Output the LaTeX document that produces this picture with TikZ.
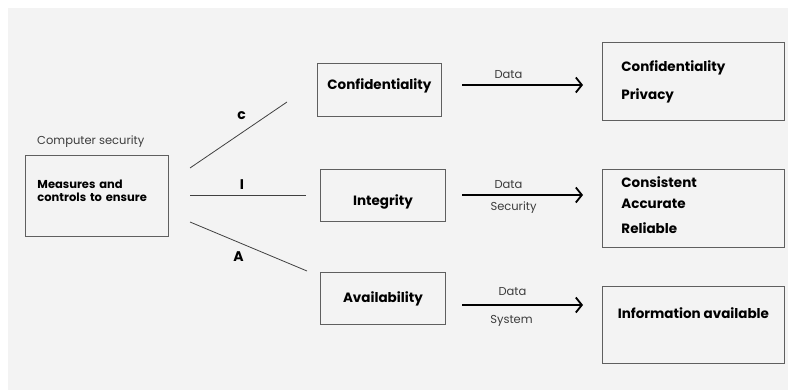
\documentclass[tikz,border=0pt]{standalone}
\usepackage{fontspec}
\setmainfont{Poppins}
\usepackage{tikz}
\usetikzlibrary{positioning,arrows.meta}
\usepackage{xcolor}
\definecolor{panelgray}{RGB}{243,243,243}
\definecolor{edgegray}{RGB}{95,95,95}
\definecolor{labelgray}{RGB}{60,60,60}

\begin{document}
\begin{tikzpicture}[
    x=1pt, y=-1pt,
    every node/.style={font=\small},
    boxNode/.style={rectangle, draw=edgegray, line width=0.9pt, inner sep=0pt, font=\bfseries\fontsize{13.5}{15}\selectfont},
    letterNode/.style={font=\bfseries\fontsize{14}{15}\selectfont},
    tagNode/.style={font=\fontsize{11.5}{13}\selectfont, text=labelgray},
    linkEdge/.style={draw=black!75, line width=0.8pt},
    flowEdge/.style={draw=black, line width=1.8pt, -{Straight Barb[length=6pt,width=15pt,line width=1.8pt]}}
]
    \useasboundingbox (0,0) rectangle (788,390);
    \fill [panelgray] (8,8) rectangle (788,390);

    % source box
    \node [tagNode, anchor=west, inner xsep=0pt] (title) at (37,142) {Computer security};
    \node [boxNode, anchor=north west, minimum width=143, text width=119, align=left, text height=33, text depth=48, font=\bfseries\fontsize{11.5}{13}\selectfont] (main) at (25,155) {Measures and\\controls to ensure};

    % the three properties
    \node [boxNode, anchor=north west, minimum width=124, text height=26, text depth=27] (conf) at (317,63) {Confidentiality};
    \node [boxNode, anchor=north west, minimum width=125, text height=36, text depth=16] (integ) at (320,169) {Integrity};
    \node [boxNode, anchor=north west, minimum width=125, text height=30, text depth=22] (avail) at (320,272) {Availability};

    % what each one gives
    \node [boxNode, anchor=north west, minimum width=182, text width=144, align=left, text height=29, text depth=49, font=\bfseries\fontsize{13.5}{28}\selectfont] (confOut) at (602,42) {Confidentiality\\Privacy};
    \node [boxNode, anchor=north west, minimum width=182, text width=144, align=left, text height=18, text depth=60, font=\bfseries\fontsize{13.5}{21}\selectfont] (integOut) at (602,169) {Consistent\\Accurate\\[4pt]Reliable};
    \node [boxNode, anchor=north west, minimum width=182, text height=32, text depth=45] (availOut) at (602,286) {Information available};

    % free ends of the c / I / A strokes
    \coordinate (cFrom) at (190,168);
    \coordinate (cTo) at (287,102);
    \coordinate (iFrom) at (190,195);
    \coordinate (iTo) at (306,195);
    \coordinate (aFrom) at (190,222);
    \coordinate (aTo) at (307,271);

    \path [linkEdge] (cFrom) -- node[letterNode, above=12pt, xshift=3pt]{c} (cTo);
    \path [linkEdge] (iFrom) -- node[letterNode, above=2pt, xshift=-6pt]{I} (iTo);
    \path [linkEdge] (aFrom) -- node[letterNode, below=1pt, xshift=-10pt]{A} (aTo);

    % data arrows
    \coordinate (d1From) at (462,85);
    \coordinate (d1To) at (583,85);
    \coordinate (d2From) at (462,195);
    \coordinate (d2To) at (583,195);
    \coordinate (d3From) at (462,305);
    \coordinate (d3To) at (583,305);

    \path [flowEdge] (d1From) -- node[tagNode, above=2pt, xshift=-14pt]{Data} (d1To);
    \path [flowEdge] (d2From) -- node[tagNode, above=2pt, xshift=-14pt]{Data} node[tagNode, below=3pt, xshift=-9pt]{Security} (d2To);
    \path [flowEdge] (d3From) -- node[tagNode, above=5pt, xshift=-10pt]{Data} node[tagNode, below=6pt, xshift=-11pt]{System} (d3To);
\end{tikzpicture}
\end{document}
